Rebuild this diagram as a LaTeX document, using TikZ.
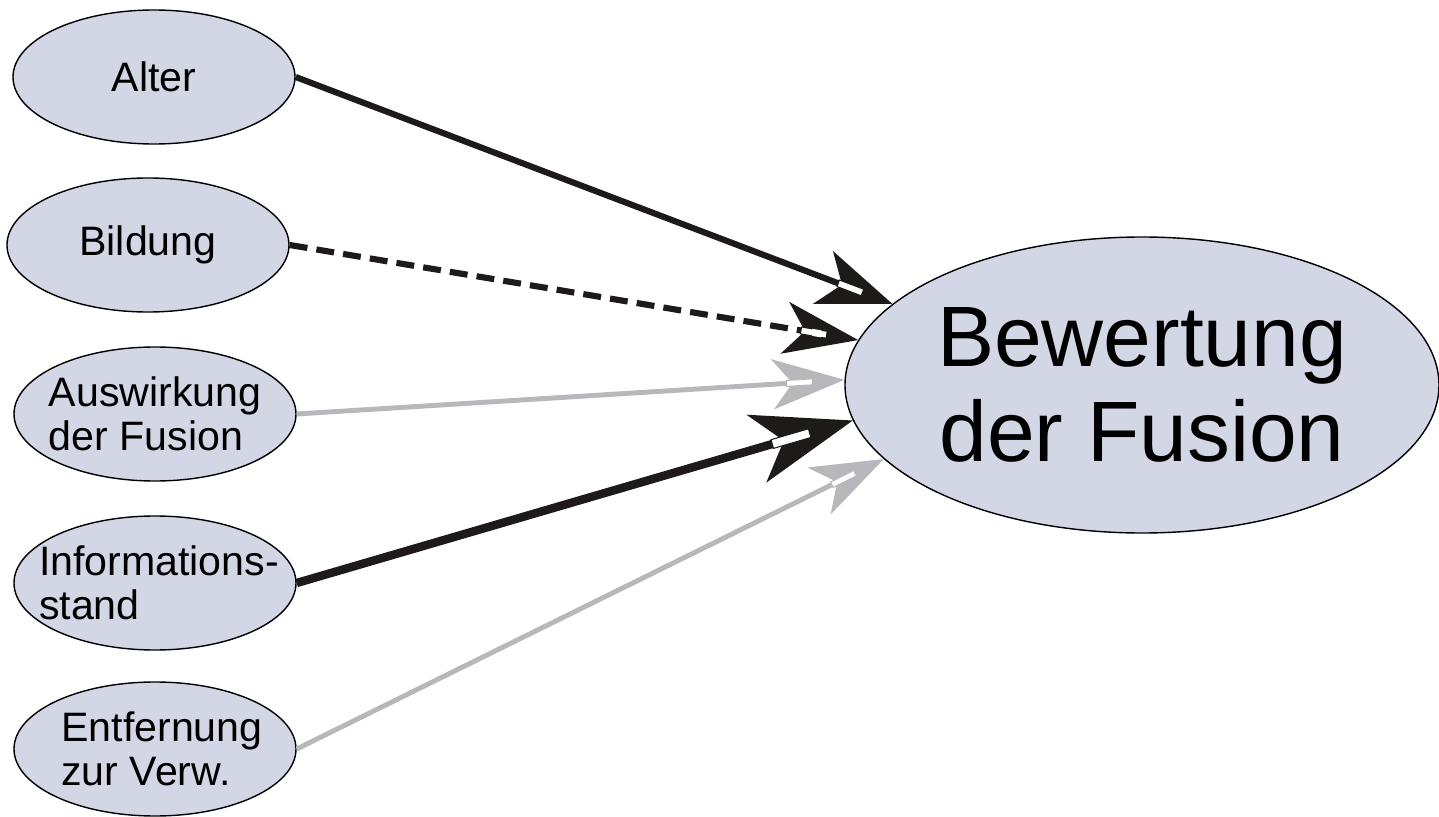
\documentclass[tikz,border=0pt]{standalone}
\usepackage{fontspec}
\setmainfont{Liberation Sans}
\usetikzlibrary{shapes.geometric,arrows.meta,decorations.markings}
\definecolor{ellfill}{RGB}{211,214,229}
\definecolor{arrdark}{RGB}{30,26,26}
\definecolor{arrgray}{RGB}{183,183,188}

\begin{document}
\begin{tikzpicture}[
    factor/.style={ellipse,draw=black,line width=0.4pt,fill=ellfill,minimum width=2.82cm,minimum height=1.34cm,inner xsep=-1cm,inner ysep=-0.5cm,align=left,font=\fontsize{11.7}{12.5}\selectfont},
    target/.style={ellipse,draw=black,line width=0.4pt,fill=ellfill,minimum width=5.94cm,minimum height=2.96cm,inner xsep=-1cm,inner ysep=-0.5cm,align=center,font=\fontsize{24.4}{27}\selectfont},
    slot/.style n args={3}{postaction=decorate,decoration={markings,mark=at position 1 with {\filldraw[fill=white,line width=0.3pt] (-#1,-#3) rectangle (-#2,#3);}}},
  ]
  \def\tipl{0.74};
  \def\tipw{0.56};
  \def\tipi{0.2};
  \useasboundingbox (0,0) rectangle (14.39,-8.17);
  % factors
  \node[factor] (alter) at (1.54,-0.77) {Alter};
  \node[factor] (bildung) at (1.48,-2.45) {Bildung};
  \node[factor] (auswirkung) at (1.55,-4.14) {Auswirkung\\der Fusion};
  \node[factor] (info) at (1.55,-5.83) {\hspace*{0.08cm}Informations-\\\hspace*{0.08cm}stand};
  \node[factor] (entf) at (1.55,-7.49) {\hspace*{0.14cm}Entfernung\\\hspace*{0.14cm}zur Verw.};
  \node[target] (bew) at (11.42,-3.85) {Bewertung\\der Fusion};
  % effects
  \draw[arrdark,line width=1.75pt,-{Stealth[length=\tipl cm,width=\tipw cm,inset=\tipi cm]},slot={0.58}{0.32}{0.035}] (alter.east) -- (bew.162);
  \draw[arrdark,line width=1.75pt,dash pattern=on 5.1pt off 2.6pt,-{Stealth[length=\tipl cm,width=0.52cm,inset=\tipi cm]},slot={0.58}{0.32}{0.035}] (bildung.east) -- (bew.171);
  \draw[arrgray,line width=1.4pt,-{Stealth[length=0.72cm,width=0.5cm,inset=\tipi cm]},slot={0.58}{0.32}{0.03}] (auswirkung.east) -- (bew.179);
  \draw[arrdark,line width=2.4pt,-{Stealth[length=1.0cm,width=0.7cm,inset=0.28cm]},slot={0.84}{0.45}{0.045}] (info.east) -- (bew.187);
  \draw[arrgray,line width=1.4pt,-{Stealth[length=0.72cm,width=0.52cm,inset=\tipi cm]},slot={0.58}{0.32}{0.03}] (entf.east) -- (bew.196);
\end{tikzpicture}
\end{document}
